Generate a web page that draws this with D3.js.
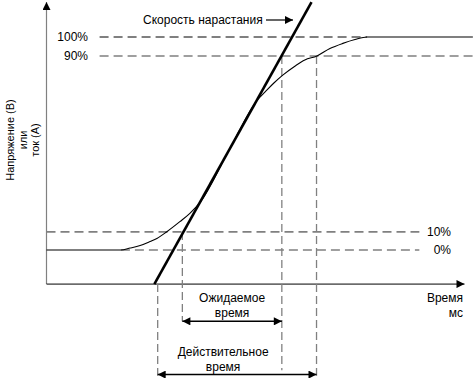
<!DOCTYPE html>
<head>
    <style>
        body { margin: 0; background: #fff; }
        text { font-family: "Liberation Sans", Arial, sans-serif; font-size: 12px; fill: #000; }
    </style>
</head>
<body>
    <script src="https://d3js.org/d3.v7.min.js"></script>
    <script>
        const width = 473;
        const height = 378;

        // time in arbitrary units, signal in % of final value
        const curve = [
            [0, 0], [17.8, 0], [20, 0.9], [22.4, 2.1], [24.8, 4], [26.4, 5.4],
            [28.8, 8.6], [31.9, 13.3], [34.3, 17.2], [36.7, 22.2], [43.5, 46.2],
            [50.4, 70.3], [52.3, 74.2], [54.4, 78.4], [56.6, 82.2], [59.5, 86.4],
            [61.8, 89.2], [64.7, 91.1], [67.8, 94.6], [70.9, 97], [73.8, 98.8],
            [76.7, 100], [102, 100]
        ];
        const tangent = [[25.8, -16], [63.4, 116.4]];

        const levelLabels = ["100%", "90%", "10%", "0%"];
        const levelValues = [100, 91.1, 8.5, 0];
        const levelFrom = [12.7, 12.7, 0, 17.8];
        const levelTo = [76.7, 102, 89.2, 89.2];
        const levelColor = ["#000", "#808080", "#808080", "#808080"];

        const markTimes = [26.6, 32.5, 56.3, 64.6];
        const markTop = [-16, 8.5, 91.1, 91.1];
        const markBottom = [-59, -33.5, -56.5, -59];

        const spans = [
            { name: ["Ожидаемое", "время"], from: 32.5, to: 56.3, level: -33.5, shift: 0 },
            { name: ["Действительное", "время"], from: 26.6, to: 64.6, level: -58.5, shift: -14 }
        ];

        const yLabel = ["Напряжение (В)", "или", "ток (A)"];
        const xLabel = ["Время", "мс"];
        const slopeLabel = "Скорость нарастания";

        const x = d3.scaleLinear().domain([0, 100]).range([46.5, 464.5]);
        const y = d3.scaleLinear().domain([0, 100]).range([250, 37]);
        const axisLevel = -16;

        const svg = d3.select("body").append("svg")
            .attr("width", width).attr("height", height);

        const defs = svg.append("defs");
        defs.append("marker").attr("id", "ah")
            .attr("viewBox", "0 0 10 10").attr("refX", 10).attr("refY", 5)
            .attr("markerWidth", 10).attr("markerHeight", 8)
            .attr("markerUnits", "userSpaceOnUse")
            .attr("orient", "auto-start-reverse")
            .append("path").attr("d", "M0,0L10,5L0,10Z").attr("fill", "#000");

        // axes
        svg.append("line")
            .attr("x1", x(0)).attr("x2", x(0))
            .attr("y1", y(axisLevel)).attr("y2", 2)
            .attr("stroke", "#808080").attr("stroke-width", 1.2)
            .attr("marker-end", "url(#ah)");
        svg.append("line")
            .attr("x1", x(0)).attr("x2", x(100))
            .attr("y1", y(axisLevel)).attr("y2", y(axisLevel))
            .attr("stroke", "#000").attr("stroke-width", 1)
            .attr("marker-end", "url(#ah)");

        // level lines
        svg.selectAll(".lvl").data(levelValues).enter().append("line")
            .attr("class", "lvl")
            .attr("x1", (d, i) => x(levelFrom[i])).attr("x2", (d, i) => x(levelTo[i]))
            .attr("y1", d => y(d)).attr("y2", d => y(d))
            .attr("stroke", (d, i) => levelColor[i])
            .attr("stroke-width", (d, i) => i == 0 ? 1 : 1.6)
            .attr("stroke-dasharray", "9,5");

        svg.selectAll(".lvlt").data(levelValues).enter().append("text")
            .attr("x", (d, i) => i < 2 ? 88 : 451)
            .attr("y", d => y(d) + 4)
            .attr("text-anchor", "end")
            .text((d, i) => levelLabels[i]);

        // vertical markers
        svg.selectAll(".mk").data(markTimes).enter().append("line")
            .attr("x1", d => x(d)).attr("x2", d => x(d))
            .attr("y1", (d, i) => y(markTop[i])).attr("y2", (d, i) => y(markBottom[i]))
            .attr("stroke", "#808080").attr("stroke-width", 1.3)
            .attr("stroke-dasharray", "8,4");

        // response curve
        svg.append("path").datum(curve)
            .attr("d", d3.line().x(d => x(d[0])).y(d => y(d[1])).curve(d3.curveMonotoneX))
            .attr("fill", "none").attr("stroke", "#000").attr("stroke-width", 1.1);

        // slew rate line
        svg.append("path").datum(tangent)
            .attr("d", d3.line().x(d => x(d[0])).y(d => y(d[1])))
            .attr("fill", "none").attr("stroke", "#000").attr("stroke-width", 2.6);

        // slew label with arrow
        svg.append("text").attr("x", 143).attr("y", 24).text(slopeLabel);
        svg.append("line")
            .attr("x1", 266).attr("x2", 293).attr("y1", 20).attr("y2", 20)
            .attr("stroke", "#000").attr("stroke-width", 1.2)
            .attr("marker-end", "url(#ah)");

        // time spans
        spans.forEach(s => {
            svg.append("line")
                .attr("x1", x(s.from)).attr("x2", x(s.to))
                .attr("y1", y(s.level)).attr("y2", y(s.level))
                .attr("stroke", "#000").attr("stroke-width", 1.5)
                .attr("marker-start", "url(#ah)").attr("marker-end", "url(#ah)");
            const cx = (x(s.from) + x(s.to)) / 2 + s.shift;
            s.name.forEach((t, k) => {
                svg.append("text")
                    .attr("x", cx).attr("y", y(s.level) - 19 + k * 15)
                    .attr("text-anchor", "middle").text(t);
            });
        });

        // axis titles
        yLabel.forEach((t, k) => {
            svg.append("text")
                .attr("transform", `translate(${14 + k * 12.5},140) rotate(-90)`)
                .attr("text-anchor", "middle")
                .style("font-size", "11px").text(t);
        });
        xLabel.forEach((t, k) => {
            svg.append("text")
                .attr("x", 463).attr("y", 302 + k * 15)
                .attr("text-anchor", "end").text(t);
        });
    </script>
</body>
</html>
